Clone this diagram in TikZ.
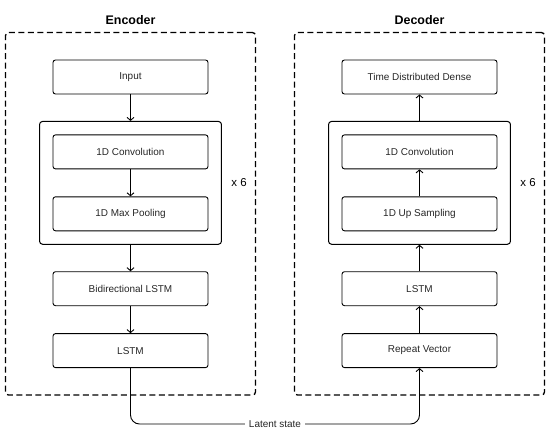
\documentclass[tikz,border=0pt]{standalone}
\usepackage{fontspec}
\setmainfont{Liberation Sans}
\usetikzlibrary{arrows.meta,positioning,fit}

\begin{document}
\begin{tikzpicture}[
    x=1bp, y=1bp,
    node distance=27bp,
    layer/.style={rectangle, draw, line width=0.9bp, rounded corners=2.5bp, minimum width=155bp, minimum height=34bp, inner sep=0pt, font=\fontsize{10}{12}\selectfont, text=black!85},
    loopbox/.style={draw, line width=1bp, rounded corners=3bp, inner sep=13bp},
    group/.style={draw, line width=1.3bp, dash pattern=on 6bp off 3.5bp, rounded corners=3bp, inner xsep=47bp, inner ysep=27bp},
    title/.style={font=\bfseries\fontsize{12.5}{14}\selectfont},
    repeats/.style={font=\fontsize{11.5}{13}\selectfont},
    arrow/.style={-{Straight Barb[length=3bp, width=7bp]}, line width=0.9bp},
    link/.style={line width=0.9bp, rounded corners=9bp}
]
\useasboundingbox (0,0) rectangle (550,-434);

% Encoder
\node[layer] (input) at (130.5,-77) {Input};
\node[layer, below=40bp of input] (econv) {1D Convolution};
\node[layer, below=of econv] (epool) {1D Max Pooling};
\node[loopbox, fit=(econv)(epool)] (eloop) {};
\node[layer, below=40bp of epool] (bilstm) {Bidirectional LSTM};
\node[layer, below=of bilstm] (elstm) {LSTM};
\node[repeats, right=6bp of eloop] {x 6};
\node[group, fit=(input)(elstm)] (encoder) {};
\node[title, above=4bp of encoder] {Encoder};

\draw[arrow] (input) -- (eloop);
\draw[arrow] (econv) -- (epool);
\draw[arrow] (eloop) -- (bilstm);
\draw[arrow] (bilstm) -- (elstm);

% Decoder
\node[layer] (dense) at (419.5,-77) {Time Distributed Dense};
\node[layer, below=40bp of dense] (dconv) {1D Convolution};
\node[layer, below=of dconv] (upsample) {1D Up Sampling};
\node[loopbox, fit=(dconv)(upsample)] (dloop) {};
\node[layer, below=40bp of upsample] (dlstm) {LSTM};
\node[layer, below=of dlstm] (repeat) {Repeat Vector};
\node[repeats, right=6bp of dloop] {x 6};
\node[group, fit=(dense)(repeat)] (decoder) {};
\node[title, above=4bp of decoder] {Decoder};

\draw[arrow] (dloop) -- (dense);
\draw[arrow] (upsample) -- (dconv);
\draw[arrow] (dlstm) -- (dloop);
\draw[arrow] (repeat) -- (dlstm);

% Latent state
\node[font=\fontsize{10}{12}\selectfont, text=black!85, inner xsep=4bp] (latent) at (275,-424) {Latent state};
\draw[link] (elstm) |- (latent);
\draw[link, arrow] (latent) -| (repeat);

\end{tikzpicture}
\end{document}
